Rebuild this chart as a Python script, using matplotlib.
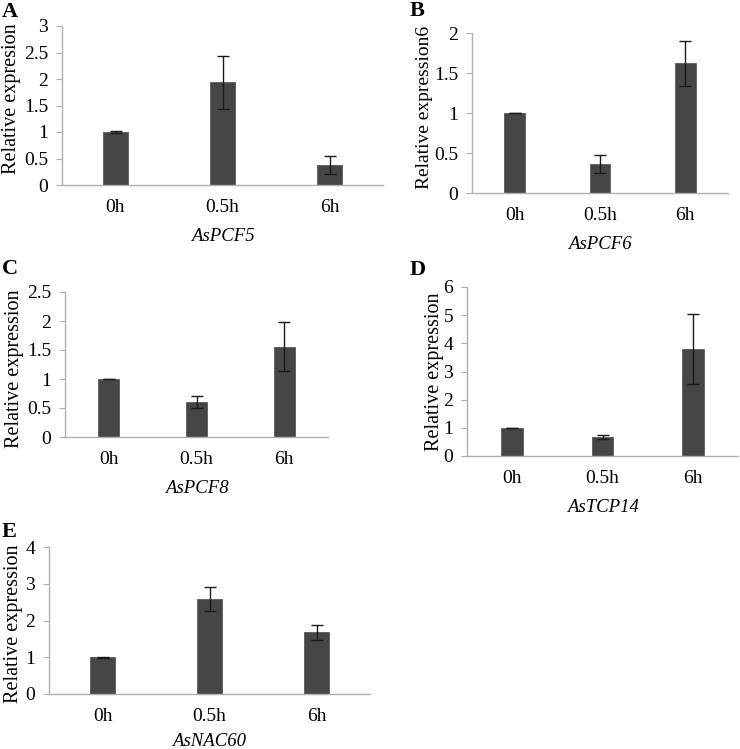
import matplotlib
matplotlib.use('Agg')

import matplotlib.pyplot as plt
import numpy as np

plt.rcParams['font.family'] = ['Liberation Serif', 'DejaVu Serif']

# Data
times = ['0h', '0.5h', '6h']

pcf5 = [1.0, 1.94, 0.38]
pcf5_err = [0.01, 0.50, 0.165]

pcf6 = [1.0, 0.36, 1.62]
pcf6_err = [0.005, 0.11, 0.28]

pcf8 = [1.0, 0.60, 1.56]
pcf8_err = [0.005, 0.10, 0.42]

tcp14 = [1.0, 0.66, 3.80]
tcp14_err = [0.01, 0.07, 1.23]

nac60 = [1.0, 2.59, 1.68]
nac60_err = [0.01, 0.33, 0.20]

W, H = 740, 749
fig = plt.figure(figsize=(W / 100, H / 100), dpi=100)


def px_axes(x0, x1, y_top, y_bot):
    return fig.add_axes([x0 / W, 1 - y_bot / H, (x1 - x0) / W, (y_bot - y_top) / H])


# (axes box in px, values, errors, ymax, ystep, ylabel, gene, letter,
#  ylabel x px, ylabel y frac, ylabel size, letter pos, gene pad)
panels = [
    ((62, 383, 26, 185), pcf5, pcf5_err, 3, 0.5, 'Relative expresion', 'AsPCF5', 'A',
     21, 0.54, 14.5, (2, 12), 9),
    ((472, 728, 33, 193), pcf6, pcf6_err, 2, 0.5, 'Relative expression6', 'AsPCF6', 'B',
     433, 0.535, 14, (410, 11), 9),
    ((65, 328, 292, 437), pcf8, pcf8_err, 2.5, 0.5, 'Relative expression', 'AsPCF8', 'C',
     24, 0.47, 14.5, (2, 269), 9),
    ((467, 738, 287, 456), tcp14, tcp14_err, 6, 1, 'Relative expression', 'AsTCP14', 'D',
     444, 0.5, 14.5, (410, 270), 9),
    ((49, 370, 547, 694), nac60, nac60_err, 4, 1, 'Relative expression', 'AsNAC60', 'E',
     23, 0.48, 14.5, (2, 532), 5.5),
]

axis_grey = '#b0b0b0'
bar_color = '#464646'

for (box, vals, errs, ymax, ystep, ylab, gene, letter,
     lab_x, lab_y, lab_size, let_pos, gpad) in panels:
    x0, x1, y_top, y_bot = box
    ax = px_axes(x0, x1, y_top, y_bot)
    x = np.arange(len(times))
    ax.bar(x, vals, width=0.24, color=bar_color, edgecolor='#5a5a5a', linewidth=0.6, zorder=2)
    ax.errorbar(x, vals, yerr=errs, fmt='none', ecolor='#1a1a1a', elinewidth=1.0,
                capsize=4, capthick=1.0, zorder=3)
    ax.set_xlim(-0.5, len(times) - 0.5)
    ax.set_ylim(0, ymax)
    yt = np.arange(0, ymax + ystep / 2, ystep)
    ax.set_yticks(yt)
    ax.set_yticklabels(['%g' % v for v in yt])
    ax.set_xticks(x)
    ax.set_xticklabels(times)
    for s in ['top', 'right']:
        ax.spines[s].set_visible(False)
    for s in ['left', 'bottom']:
        ax.spines[s].set_color(axis_grey)
        ax.spines[s].set_linewidth(1.0)
    ax.tick_params(axis='y', length=4, width=0.8, color=axis_grey, labelsize=14, pad=6)
    ax.tick_params(axis='x', length=0, labelsize=14, pad=10)
    ax.set_xlabel(gene, fontsize=13.5, fontstyle='italic', labelpad=gpad)
    ax.set_ylabel(ylab, fontsize=lab_size)
    ax.yaxis.set_label_coords((lab_x - x0) / (x1 - x0), lab_y)
    fig.text(let_pos[0] / W, 1 - let_pos[1] / H, letter, fontsize=16, fontweight='bold',
             ha='left', va='center')

fig.savefig('out.png', dpi=100)
